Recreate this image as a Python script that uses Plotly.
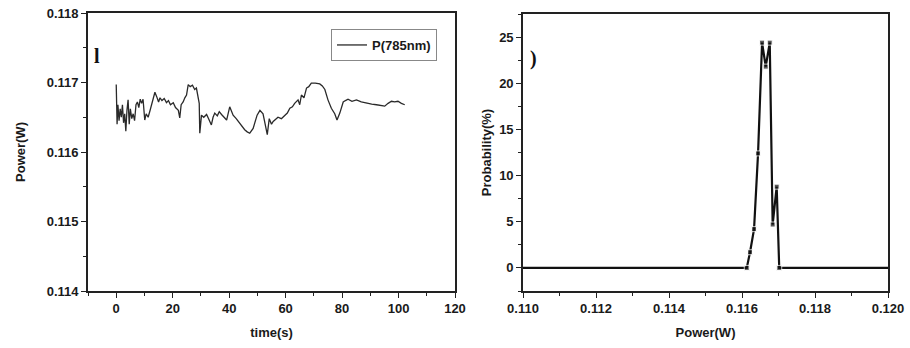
import plotly.graph_objects as go

# ---- data: left panel (power vs time) ----
time_s = [0, 0.3, 0.6, 1.0, 1.4, 1.8, 2.2, 2.6, 3.0, 3.4, 3.8, 4.2, 4.6, 5.0, 5.5, 6.0, 6.5, 7.0, 7.5, 8.0,
          8.5, 9.0, 9.5, 10.1, 10.6, 11.3, 12.0, 12.5, 13.1, 13.7, 14.3, 15.0, 15.5, 16.2, 17.0, 17.8, 18.5,
          19.2, 20.2, 21.0, 22.0, 22.5, 23.0, 23.7, 24.3, 24.9, 25.5, 26.2, 27.0, 27.8, 28.4, 29.0, 29.4,
          29.6, 30.2, 31.0, 32.0, 32.8, 33.7, 34.3, 34.9, 35.8, 36.5, 37.3, 38.2, 39.1, 40.2, 40.8, 41.4,
          42.5, 43.8, 44.6, 45.5, 46.4, 47.3, 48.5, 49.2, 49.9, 50.9, 52.0, 52.5, 52.9, 53.5, 54.2, 55.0,
          55.6, 56.5, 57.3, 58.5, 59.7, 60.6, 61.5, 62.4, 63.2, 64.4, 65.0, 65.6, 66.5, 67.4, 68.2, 69.1,
          70.5, 72.1, 73.0, 73.9, 75.0, 76.2, 77.4, 78.2, 79.2, 80.4, 81.2, 82.1, 83.5, 85.1, 86.8, 88.6,
          90.5, 92.2, 93.6, 95.1, 96.3, 97.5, 98.6, 99.8, 101.0, 102.2]
power_w = [0.11697, 0.11640, 0.11668, 0.11645, 0.11662, 0.11650, 0.11668, 0.11642, 0.11655, 0.11630,
           0.11660, 0.11675, 0.11640, 0.11662, 0.11648, 0.11655, 0.11645, 0.11668, 0.11672, 0.11664,
           0.11676, 0.11670, 0.11676, 0.11646, 0.11655, 0.11650, 0.11660, 0.11668, 0.11674, 0.11686,
           0.11680, 0.11672, 0.11678, 0.11674, 0.11677, 0.11671, 0.11674, 0.11668, 0.11671, 0.11664,
           0.11660, 0.11649, 0.11668, 0.11672, 0.11678, 0.11682, 0.11697, 0.11694, 0.11696, 0.11690,
           0.11692, 0.11680, 0.11670, 0.11627, 0.11653, 0.11650, 0.11654, 0.11647, 0.11639, 0.11650,
           0.11656, 0.11652, 0.11658, 0.11654, 0.11650, 0.11646, 0.11665, 0.11660, 0.11653, 0.11648,
           0.11641, 0.11636, 0.11632, 0.11629, 0.11627, 0.11634, 0.11642, 0.11653, 0.11660, 0.11655,
           0.11645, 0.11637, 0.11625, 0.11648, 0.11640, 0.11644, 0.11648, 0.11650, 0.11648, 0.11653,
           0.11656, 0.11663, 0.11665, 0.11670, 0.11675, 0.11668, 0.11682, 0.11678, 0.11692, 0.11694,
           0.11699, 0.11699, 0.11698, 0.11695, 0.11690, 0.11675, 0.11663, 0.11655, 0.11646, 0.11656,
           0.11672, 0.11674, 0.11676, 0.11673, 0.11675, 0.11672, 0.11670, 0.11669, 0.11668, 0.11667,
           0.11666, 0.11670, 0.11673, 0.11672, 0.11673, 0.11670, 0.11668]

# ---- data: right panel (probability distribution) ----
bin_power = [0.1100, 0.11613, 0.11622, 0.11633, 0.11644, 0.11655, 0.11665, 0.11676, 0.11684, 0.11695, 0.11702, 0.1200]
probability = [0, 0, 1.7, 4.2, 12.4, 24.4, 21.8, 24.4, 4.7, 8.8, 0, 0]

left_xticks = [0, 20, 40, 60, 80, 100, 120]
left_yticks = [0.114, 0.115, 0.116, 0.117, 0.118]
right_xticks = [0.110, 0.112, 0.114, 0.116, 0.118, 0.120]
right_yticks = [0, 5, 10, 15, 20, 25]

W, H = 910, 348
FONT = "Liberation Sans, Arial, sans-serif"
tickfont = dict(family=FONT, size=13, color="#1a1a1a", weight="bold")
titlefont = dict(family=FONT, size=13, color="#1a1a1a", weight="bold")

fig = go.Figure()
fig.add_trace(go.Scatter(x=time_s, y=power_w, mode="lines", name="P(785nm)",
                         line=dict(color="#2a2a2a", width=1.3), xaxis="x", yaxis="y"))
marker_sizes = [0] + [5] * (len(bin_power) - 2) + [0]
fig.add_trace(go.Scatter(x=bin_power, y=probability, mode="lines+markers", showlegend=False,
                         line=dict(color="#111", width=2.2),
                         marker=dict(symbol="square", size=marker_sizes, color="#111"),
                         xaxis="x2", yaxis="y2"))

common = dict(showline=True, linecolor="#222", linewidth=1.6, mirror=True, ticks="outside",
              ticklen=5, tickwidth=1.3, tickcolor="#222", showgrid=False, zeroline=False,
              tickfont=tickfont, automargin=False)
minor_style = dict(ticklen=3, tickcolor="#222", ticks="outside", tickwidth=1.2)

fig.update_layout(
    width=W, height=H, margin=dict(l=0, r=0, t=0, b=0, autoexpand=False),
    paper_bgcolor="white", plot_bgcolor="white",
    xaxis=dict(domain=[88 / W, 455 / W], range=[-10, 120], tickvals=left_xticks,
               minor=dict(dtick=10, **minor_style),
               title=dict(text="time(s)", font=titlefont, standoff=12), anchor="y", **common),
    yaxis=dict(domain=[1 - 291 / H, 1 - 13 / H], range=[0.114, 0.118], tickvals=left_yticks, tickformat=".3f",
               minor=dict(dtick=0.0005, **minor_style),
               title=dict(text="Power(W)", font=titlefont, standoff=18), anchor="x", **common),
    xaxis2=dict(domain=[523 / W, 888 / W], range=[0.110, 0.120], tickvals=right_xticks, tickformat=".3f",
                minor=dict(dtick=0.001, **minor_style),
                title=dict(text="Power(W)", font=titlefont, standoff=12), anchor="y2", **common),
    yaxis2=dict(domain=[1 - 291 / H, 1 - 14 / H], range=[-2.5, 27.5], tickvals=right_yticks,
                minor=dict(dtick=2.5, **minor_style),
                title=dict(text="Probability(%)", font=titlefont, standoff=5), anchor="x2", **common),
    legend=dict(x=437 / W, y=1 - 29 / H, xanchor="right", yanchor="top",
                bordercolor="#888", borderwidth=1, bgcolor="white",
                font=dict(family=FONT, size=13, color="#1a1a1a", weight="bold"), itemwidth=30,
                tracegroupgap=0),
    showlegend=True,
)

fig.add_annotation(x=92 / W, y=1 - 43 / H, xref="paper", yref="paper", text="<b>l</b>",
                   showarrow=False, font=dict(family="Liberation Serif, serif", size=20, color="#111"))
fig.add_annotation(x=533 / W, y=1 - 45 / H, xref="paper", yref="paper", text="<b>)</b>",
                   showarrow=False, font=dict(family="Liberation Serif, serif", size=20, color="#111"))

fig.write_html("out.html")
